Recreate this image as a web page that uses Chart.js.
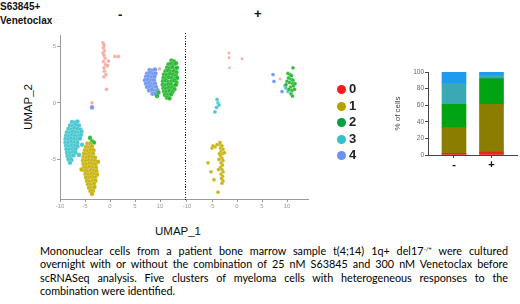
<!DOCTYPE html>
<html>
<head>
<meta charset="utf-8">
<script src="https://cdn.jsdelivr.net/npm/chart.js@4"></script>
<style>
  html, body { margin: 0; padding: 0; background: #fff; }
  body { width: 520px; height: 304px; position: relative; overflow: hidden; font-family: "Liberation Sans", Arial, sans-serif; color: #111; }
  canvas { position: absolute; }
  .lbl { position: absolute; white-space: nowrap; }
  .legend-item { position: absolute; height: 16px; }
  .legend-dot { position: absolute; width: 9px; height: 9px; border-radius: 50%; left: 0; top: 3px; }
  .legend-text { position: absolute; left: 12px; top: -1px; font: bold 13px "Liberation Sans", Arial, sans-serif; color: #222; }
  #divider { position: absolute; left: 185px; top: 33px; width: 1.4px; height: 167px;
    background: repeating-linear-gradient(to bottom, #222 0 1.2px, transparent 1.2px 2.6px); }
  #caption { position: absolute; left: 40px; top: 244px; width: 468px; font: 10.8px Lato, "Liberation Sans", sans-serif; line-height: 13.3px; color: #000; }
  #caption div { text-align: justify; text-align-last: justify; white-space: nowrap; }
  #caption div.last { text-align-last: left; }
  sup { font-size: 6px; vertical-align: 4px; line-height: 0; }
</style>
</head>
<body>
<div class="lbl" style="left:0;top:1px;font:bold 10px 'Liberation Sans',Arial,sans-serif;">S63845+</div>
<div class="lbl" style="left:0;top:15px;font:bold 10px 'Liberation Sans',Arial,sans-serif;">Venetoclax</div>
<div class="lbl" style="left:118px;top:7px;font:bold 13px 'Liberation Sans',Arial,sans-serif;">-</div>
<div class="lbl" style="left:254px;top:6px;font:bold 13px 'Liberation Sans',Arial,sans-serif;">+</div>
<div class="lbl" style="left:28px;top:107px;font:11.5px 'Liberation Sans',Arial,sans-serif;transform:translate(-50%,-50%) rotate(-90deg);">UMAP_2</div>
<div class="lbl" style="left:155px;top:225px;font:11.5px 'Liberation Sans',Arial,sans-serif;">UMAP_1</div>

<canvas id="umapLeft" width="150" height="195" style="left:40px;top:25px;width:150px;height:195px"></canvas>
<canvas id="umapRight" width="135" height="195" style="left:180px;top:25px;width:135px;height:195px"></canvas>
<div id="divider"></div>
<canvas id="bars" width="135" height="115" style="left:385px;top:62px;width:135px;height:115px"></canvas>
<div id="legend"></div>

<div id="caption">
  <div>Mononuclear cells from a patient bone marrow sample t(4;14) 1q+ del17<sup>-/+</sup> were cultured</div>
  <div>overnight with or without the combination of 25 nM S63845 and 300 nM Venetoclax before</div>
  <div>scRNASeq analysis. Five clusters of myeloma cells with heterogeneous responses to the</div>
  <div class="last">combination were identified.</div>
</div>

<script>
(function () {
    "use strict";

    // ---- data ----
    const clusterNames = ["0", "1", "2", "3", "4"];
    const umapXTicks = [-10, -5, 0, 5, 10];
    const umapYTicks = [-5, 0, 5];

    // untreated (-) panel, [UMAP_1, UMAP_2]
    const leftC0 = [[-1.4,5.3],[-1.2,5.1],[-1.3,4.85],[-1.1,4.6],[-1.4,4.4],[-1.2,4.2],[-1.0,3.95],
        [-1.3,3.65],[-0.9,3.4],[-1.2,3.1],[-0.5,3.3],[-1.1,2.8],[-0.8,2.5],[-1.2,2.3],[-0.3,3.7],
        [1.0,4.1],[1.7,4.1],[-0.7,1.2],[-3.6,0.0],[9.9,3.0]];
    const leftC1 = [[-4.5,-3.6],[-3.9,-3.65],
        [-4.8,-3.9],[-4.2,-3.95],[-3.6,-3.85],
        [-5.0,-4.2],[-4.4,-4.25],[-3.8,-4.15],[-3.3,-4.2],
        [-5.2,-4.5],[-4.6,-4.55],[-4.0,-4.45],[-3.4,-4.5],
        [-5.3,-4.8],[-4.7,-4.85],[-4.1,-4.75],[-3.5,-4.8],[-3.0,-4.85],
        [-5.4,-5.1],[-4.8,-5.15],[-4.2,-5.05],[-3.6,-5.1],[-3.0,-5.15],
        [-5.3,-5.4],[-4.7,-5.45],[-4.1,-5.35],[-3.5,-5.4],[-2.9,-5.45],
        [-5.2,-5.7],[-4.6,-5.75],[-4.0,-5.65],[-3.4,-5.7],[-2.8,-5.75],
        [-5.0,-6.0],[-4.4,-6.05],[-3.8,-5.95],[-3.2,-6.0],[-2.7,-6.05],
        [-4.9,-6.3],[-4.3,-6.35],[-3.7,-6.25],[-3.1,-6.3],[-2.6,-6.35],
        [-4.8,-6.6],[-4.2,-6.65],[-3.6,-6.55],[-3.0,-6.6],
        [-4.6,-6.9],[-4.0,-6.95],[-3.4,-6.85],[-2.9,-6.9],
        [-4.4,-7.2],[-3.8,-7.25],[-3.2,-7.15],
        [-4.2,-7.5],[-3.6,-7.55],[-3.1,-7.45],
        [-3.9,-7.8],[-3.4,-7.8],[-3.6,-8.05],[-2.4,-5.2],[-5.7,-5.9]];
    const leftC2 = [[12.3,3.75],[12.8,3.65],
        [11.7,3.4],[12.25,3.45],[12.8,3.35],[13.2,3.5],
        [11.4,3.1],[11.95,3.05],[12.5,3.15],[13.0,3.0],[13.4,3.1],
        [11.1,2.8],[11.65,2.85],[12.2,2.75],[12.75,2.8],[13.3,2.7],
        [10.8,2.5],[11.4,2.45],[12.0,2.55],[12.6,2.5],[13.2,2.4],
        [10.7,2.2],[11.25,2.15],[11.8,2.25],[12.4,2.2],[13.0,2.1],[13.45,2.2],
        [10.6,1.9],[11.2,1.95],[11.7,1.85],[12.3,1.9],[12.9,1.95],[13.3,1.8],
        [10.55,1.6],[11.1,1.55],[11.7,1.65],[12.2,1.6],[12.8,1.5],[13.2,1.6],
        [10.7,1.3],[11.2,1.25],[11.8,1.35],[12.4,1.3],[12.9,1.2],
        [10.8,1.0],[11.3,0.95],[11.9,1.05],[12.5,0.95],
        [11.0,0.7],[11.6,0.7],[12.2,0.75],
        [11.4,0.45],[11.9,0.4],
        [9.7,0.9],[9.4,0.6],[-4.0,-3.1],[-3.6,-3.4],[-3.2,-3.5]];
    const leftC3 = [[-7.6,-1.7],[-7.0,-1.75],[-6.5,-1.65],
        [-8.0,-2.0],[-7.4,-2.05],[-6.8,-1.95],[-6.2,-2.0],
        [-8.3,-2.3],[-7.7,-2.35],[-7.1,-2.25],[-6.5,-2.3],[-5.9,-2.35],
        [-8.6,-2.6],[-8.0,-2.65],[-7.4,-2.55],[-6.8,-2.6],[-6.2,-2.65],[-5.7,-2.55],
        [-8.8,-2.9],[-8.2,-2.95],[-7.6,-2.85],[-7.0,-2.9],[-6.4,-2.95],[-5.8,-2.85],
        [-8.9,-3.2],[-8.3,-3.25],[-7.7,-3.15],[-7.1,-3.2],[-6.5,-3.25],[-6.0,-3.15],
        [-8.9,-3.5],[-8.3,-3.55],[-7.7,-3.45],[-7.1,-3.5],[-6.5,-3.55],
        [-8.8,-3.8],[-8.2,-3.85],[-7.6,-3.75],[-7.0,-3.8],[-6.5,-3.85],
        [-8.7,-4.1],[-8.1,-4.15],[-7.5,-4.05],[-6.9,-4.1],
        [-8.6,-4.4],[-8.0,-4.45],[-7.4,-4.35],[-6.9,-4.4],
        [-8.5,-4.7],[-7.9,-4.75],[-7.3,-4.65],
        [-8.3,-5.0],[-7.7,-5.05],[-8.0,-5.3],[-6.2,-4.6],[-5.6,-3.7]];
    const leftC4 = [[7.9,2.9],[8.5,2.85],[9.0,2.95],
        [7.4,2.6],[8.0,2.65],[8.6,2.55],[9.1,2.6],
        [7.2,2.3],[7.7,2.35],[8.3,2.25],[8.9,2.3],
        [7.0,2.0],[7.6,2.05],[8.2,1.95],[8.8,2.0],
        [7.2,1.7],[7.8,1.75],[8.4,1.65],[9.0,1.7],
        [7.4,1.4],[8.0,1.45],[8.6,1.35],[9.2,1.4],
        [7.8,1.1],[8.4,1.15],[9.0,1.05],[9.5,1.1],
        [8.5,0.8],[9.1,0.8],[-3.6,-0.4]];

    // treated (+) panel
    const rightC0 = [[-1.6,4.4],[-1.6,4.0],[-1.5,3.1],[1.0,3.9],[8.6,2.1]];
    const rightC1 = [[-3.4,-3.7],[-3.0,-3.8],[-3.3,-4.0],[-2.8,-4.1],[-3.2,-4.3],[-2.9,-4.5],
        [-3.3,-4.7],[-3.0,-4.9],[-2.8,-5.1],[-3.2,-5.3],[-2.9,-5.5],[-3.3,-5.7],[-3.0,-5.9],
        [-2.8,-6.1],[-3.2,-6.3],[-2.9,-6.5],[-3.1,-6.7],[-2.8,-6.9],[-3.0,-7.1],[-3.5,-4.5],
        [-3.6,-5.0],[-5.8,-5.3],[-5.2,-6.1],[-4.6,-6.8],[-3.8,-7.9],[-5.0,-4.0],[-4.4,-3.9],
        [-3.7,-5.9],[-2.5,-4.4],[-4.8,-3.8],[-4.0,-3.7],[-3.4,-3.5]];
    const rightC2 = [[10.2,2.6],[10.6,2.5],[10.3,2.2],[10.8,2.1],[10.0,1.9],[10.5,1.8],[11.1,1.7],
        [10.7,1.4],[11.3,1.5],[10.4,1.2],[11.0,1.1],[11.5,1.2],[10.8,0.8],[11.1,0.6],[9.8,1.6],
        [11.2,2.0],[10.9,2.4],[11.6,1.7],[11.2,3.1]];
    const rightC3 = [[-3.8,0.0],[-4.1,-0.4],[-4.4,-0.8],[-3.6,-0.2],[-4.0,0.3],[9.8,1.3],[10.2,1.0]];
    const rightC4 = [[7.2,2.5],[7.4,1.9],[9.0,1.0],[9.6,1.5]];

    // stacked bar, % of cells per cluster
    const barCategories = ["-", "+"];
    const barPct0 = [2, 3.5];
    const barPct1 = [31, 57.5];
    const barPct2 = [28, 31];
    const barPct3 = [25, 4];
    const barPct4 = [14, 4];
    const barTicks = [0, 20, 40, 60, 80, 100];

    // ---- styles ----
    const pointColors = ["rgba(242,150,132,.75)", "rgba(196,176,0,.92)", "rgba(30,180,40,.92)",
        "rgba(60,194,204,.92)", "rgba(104,144,238,.92)"];
    const legendColors = ["#ff1a1a", "#b8a000", "#00a040", "#33c2c8", "#6a92ee"];
    const barColors = ["#e4261c", "#8a7d00", "#00a312", "#3ba9b5", "#1d9bf0"];
    const axisGray = "#9a9a9a";
    const tickFont = { family: "Liberation Sans", size: 6 };

    Chart.defaults.animation = false;
    Chart.defaults.plugins.legend.display = false;
    Chart.defaults.plugins.tooltip.enabled = false;

    function toPoints(pairs) { return pairs.map(p => ({ x: p[0], y: p[1] })); }

    function scatterSets(groups, radius) {
        return groups.map((g, i) => ({
            label: clusterNames[i],
            data: toPoints(g),
            backgroundColor: pointColors[i],
            borderColor: "rgba(255,255,255,.45)",
            borderWidth: 0.5,
            pointRadius: i === 0 ? radius - 0.4 : radius,
        }));
    }

    function umapChart(id, groups, opts) {
        const ctx = document.getElementById(id).getContext("2d");
        return new Chart(ctx, {
            type: "scatter",
            data: { datasets: scatterSets(groups, opts.radius) },
            options: {
                responsive: false,
                layout: { padding: opts.padding },
                scales: {
                    x: {
                        type: "linear", min: opts.xMin, max: opts.xMax,
                        afterBuildTicks: s => { s.ticks = umapXTicks.map(v => ({ value: v })); },
                        afterFit: s => { s.height = 21; },
                        ticks: { font: tickFont, color: axisGray, padding: 1, maxRotation: 0 },
                        grid: { drawOnChartArea: false, tickLength: 3, color: axisGray },
                        border: { color: axisGray },
                    },
                    y: {
                        type: "linear", min: -8.5, max: 6,
                        afterBuildTicks: s => { s.ticks = umapYTicks.map(v => ({ value: v })); },
                        afterFit: s => { s.width = opts.yWidth; },
                        ticks: { display: opts.yTicks, font: tickFont, color: axisGray, padding: 1 },
                        grid: { display: opts.yTicks, drawOnChartArea: false, tickLength: 3, color: axisGray },
                        border: opts.yBorder,
                    },
                },
            },
        });
    }

    umapChart("umapLeft", [leftC0, leftC1, leftC2, leftC3, leftC4], {
        padding: { left: 0, top: 10, right: 6, bottom: 0 },
        xMin: -10, xMax: 14.8, yWidth: 20, yTicks: true, radius: 2.3,
        yBorder: { color: axisGray },
    });
    // the (+) panel's y axis is the dotted divider drawn in CSS
    umapChart("umapRight", [rightC0, rightC1, rightC2, rightC3, rightC4], {
        padding: { left: 0, top: 10, right: 7, bottom: 0 },
        xMin: -10.2, xMax: 14.2, yWidth: 6, yTicks: false, radius: 1.9,
        yBorder: { display: false },
    });

    // stacked bars
    const pctSets = [barPct0, barPct1, barPct2, barPct3, barPct4];
    new Chart(document.getElementById("bars").getContext("2d"), {
        type: "bar",
        data: {
            datasets: pctSets.map((vals, i) => ({
                label: clusterNames[i],
                data: vals.map((v, j) => ({ x: j + 1, y: v })),
                backgroundColor: barColors[i],
                borderWidth: 0,
                barThickness: 24,
            })),
        },
        options: {
            responsive: false,
            layout: { padding: { left: 0, top: 10, right: 3, bottom: 0 } },
            scales: {
                x: {
                    type: "linear", stacked: true, min: 0.307, max: 2.68, offset: false,
                    afterBuildTicks: s => { s.ticks = barCategories.map((c, j) => ({ value: j + 1 })); },
                    afterFit: s => { s.height = 22; },
                    ticks: {
                        callback: v => barCategories[v - 1] || "",
                        font: { family: "Liberation Sans", size: 11, weight: "bold" },
                        color: "#111", padding: 0,
                    },
                    grid: { offset: false, drawOnChartArea: false, tickLength: 3, color: "#444" },
                    border: { color: "#444" },
                },
                y: {
                    stacked: true, min: 0, max: 100,
                    afterBuildTicks: s => { s.ticks = barTicks.map(v => ({ value: v })); },
                    afterFit: s => { s.width = 43; },
                    ticks: { font: { family: "Liberation Sans", size: 6.5 }, color: "#666", padding: 1 },
                    grid: { drawOnChartArea: false, tickLength: 3, color: "#444" },
                    border: { color: "#444" },
                    title: {
                        display: true, text: "% of cells", color: "#444",
                        font: { family: "Liberation Sans", size: 8 },
                        padding: { top: 8, bottom: 0 },
                    },
                },
            },
        },
    });

    // legend
    const legend = document.getElementById("legend");
    const legendTops = [82, 98.5, 115, 131.5, 148];
    clusterNames.forEach((name, i) => {
        const item = document.createElement("div");
        item.className = "legend-item";
        item.style.left = "337px";
        item.style.top = legendTops[i] + "px";
        item.innerHTML = `<span class="legend-dot" style="background:${legendColors[i]}"></span>` +
            `<span class="legend-text">${name}</span>`;
        legend.appendChild(item);
    });
})();
</script>
</body>
</html>
